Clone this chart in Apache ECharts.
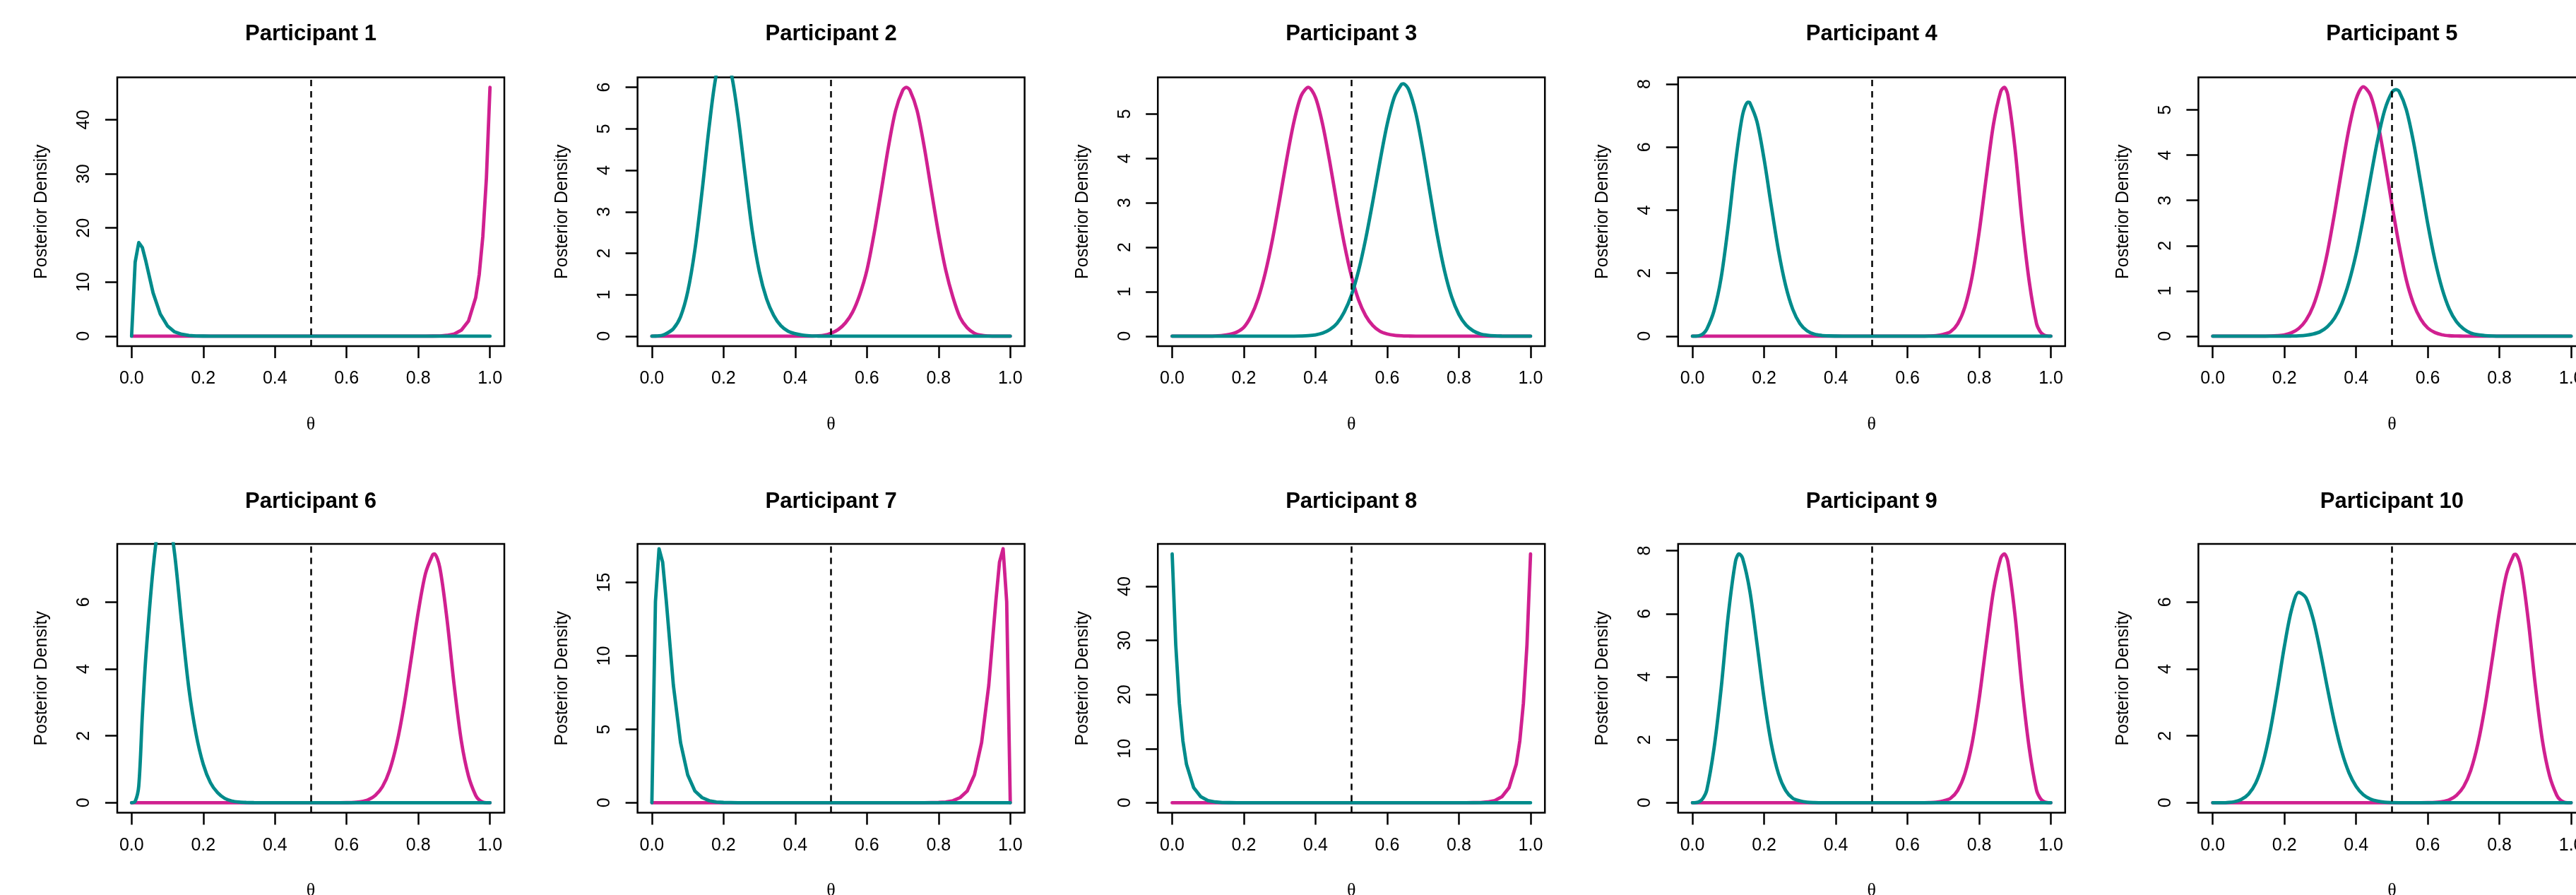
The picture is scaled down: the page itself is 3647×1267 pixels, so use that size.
<!DOCTYPE html>
<html>
<head>
    <meta charset="UTF-8"/>
    <script type="text/javascript" src="https://cdn.jsdelivr.net/npm/echarts@6/dist/echarts.min.js"></script>
    <title>Posterior Density</title>
    <style>
        body {margin: 0; background: #fff;}
        #main {width: 3647px; height: 1267px;}
    </style>
</head>
<body>
<div id="main"></div>
<script type="text/javascript">
    // theta grid the densities were read at
    var theta = [0, 0.01, 0.02, 0.03, 0.04,
        0.06, 0.08, 0.10, 0.12, 0.14, 0.16, 0.18, 0.20,
        0.22, 0.24, 0.26, 0.28, 0.30, 0.32, 0.34, 0.36, 0.38, 0.40,
        0.42, 0.44, 0.46, 0.48, 0.50, 0.52, 0.54, 0.56, 0.58, 0.60,
        0.62, 0.64, 0.66, 0.68, 0.70, 0.72, 0.74, 0.76, 0.78, 0.80,
        0.82, 0.84, 0.86, 0.88, 0.90, 0.92, 0.94, 0.96,
        0.97, 0.98, 0.99, 1]

    var pink1 = [0, 0, 0, 0, 0,
        0, 0, 0, 0, 0, 0, 0, 0,
        0, 0, 0, 0, 0, 0, 0, 0, 0, 0,
        0, 0, 0, 0, 0, 0, 0, 0, 0, 0,
        0, 0, 0, 0, 0, 0, 0, 0, 0, 0.002,
        0.006, 0.018, 0.05, 0.15, 0.4, 1.1, 2.8, 7.1,
        11.4, 18.4, 29.2, 46]
    var teal1 = [0, 13.7, 17.3, 16.4, 13.8,
        8.0, 4.1, 1.9, 0.8, 0.35, 0.14, 0.05, 0.02,
        0.01, 0, 0, 0, 0, 0, 0, 0, 0, 0,
        0, 0, 0, 0, 0, 0, 0, 0, 0, 0,
        0, 0, 0, 0, 0, 0, 0, 0, 0, 0,
        0, 0, 0, 0, 0, 0, 0, 0,
        0, 0, 0, 0]

    var pink2 = [0, 0, 0, 0, 0,
        0, 0, 0, 0, 0, 0, 0, 0,
        0, 0, 0, 0, 0, 0, 0, 0, 0, 0,
        0, 0, 0.006, 0.02, 0.07, 0.16, 0.32, 0.58, 1.0, 1.59,
        2.47, 3.5, 4.56, 5.44, 5.93, 5.93, 5.44, 4.56, 3.5, 2.47,
        1.59, 0.94, 0.45, 0.2, 0.07, 0.02, 0.005, 0,
        0, 0, 0, 0]
    var teal2 = [0, 0.003, 0.01, 0.025, 0.06,
        0.18, 0.47, 1.07, 2.08, 3.49, 5.06, 6.32, 6.8,
        6.39, 5.32, 3.91, 2.54, 1.55, 0.9, 0.5, 0.25, 0.12, 0.06,
        0.025, 0.01, 0.004, 0, 0, 0, 0, 0, 0, 0,
        0, 0, 0, 0, 0, 0, 0, 0, 0, 0,
        0, 0, 0, 0, 0, 0, 0, 0,
        0, 0, 0, 0]

    var pink3 = [0, 0, 0, 0, 0,
        0, 0, 0.001, 0.005, 0.015, 0.04, 0.09, 0.2,
        0.45, 0.85, 1.43, 2.18, 3.07, 4.0, 4.83, 5.41, 5.6, 5.37,
        4.76, 3.91, 2.97, 2.09, 1.36, 0.82, 0.46, 0.24, 0.11, 0.05,
        0.02, 0.008, 0.003, 0, 0, 0, 0, 0, 0, 0,
        0, 0, 0, 0, 0, 0, 0, 0,
        0, 0, 0, 0]
    var teal3 = [0, 0, 0, 0, 0,
        0, 0, 0, 0, 0, 0, 0, 0,
        0, 0, 0, 0, 0, 0.001, 0.002, 0.005, 0.012, 0.03,
        0.07, 0.15, 0.29, 0.54, 0.92, 1.47, 2.19, 3.04, 3.94, 4.77,
        5.38, 5.67, 5.55, 5.01, 4.17, 3.2, 2.26, 1.47, 0.88, 0.49,
        0.25, 0.12, 0.05, 0.02, 0.007, 0.002, 0, 0,
        0, 0, 0, 0]

    var pink4 = [0, 0, 0, 0, 0,
        0, 0, 0, 0, 0, 0, 0, 0,
        0, 0, 0, 0, 0, 0, 0, 0, 0, 0,
        0, 0, 0, 0, 0, 0, 0, 0, 0, 0,
        0, 0.002, 0.007, 0.02, 0.06, 0.14, 0.39, 0.92, 1.87, 3.30,
        5.06, 6.73, 7.76, 7.66, 5.96, 3.62, 1.71, 0.4,
        0.15, 0.04, 0.005, 0]
    var teal4 = [0, 0.002, 0.02, 0.08, 0.22,
        0.80, 1.85, 3.52, 5.49, 7.03, 7.41, 6.81, 5.61,
        4.13, 2.72, 1.61, 0.85, 0.40, 0.17, 0.065, 0.025, 0.009, 0.003,
        0, 0, 0, 0, 0, 0, 0, 0, 0, 0,
        0, 0, 0, 0, 0, 0, 0, 0, 0, 0,
        0, 0, 0, 0, 0, 0, 0, 0,
        0, 0, 0, 0]

    var pink5 = [0, 0, 0, 0, 0,
        0, 0, 0, 0, 0.001, 0.004, 0.012, 0.03,
        0.076, 0.17, 0.35, 0.66, 1.16, 1.85, 2.72, 3.68, 4.58, 5.24,
        5.51, 5.33, 4.74, 3.87, 2.91, 2.01, 1.25, 0.72, 0.38, 0.18,
        0.08, 0.03, 0.01, 0.004, 0.001, 0, 0, 0, 0, 0,
        0, 0, 0, 0, 0, 0, 0, 0,
        0, 0, 0, 0]
    var teal5 = [0, 0, 0, 0, 0,
        0, 0, 0, 0, 0, 0, 0, 0,
        0.003, 0.008, 0.02, 0.047, 0.10, 0.21, 0.40, 0.72, 1.19, 1.82,
        2.61, 3.48, 4.33, 5.0, 5.39, 5.41, 5.01, 4.30, 3.40, 2.48,
        1.68, 1.05, 0.60, 0.32, 0.16, 0.07, 0.03, 0.012, 0.004, 0,
        0, 0, 0, 0, 0, 0, 0, 0,
        0, 0, 0, 0]

    var pink6 = [0, 0, 0, 0, 0,
        0, 0, 0, 0, 0, 0, 0, 0,
        0, 0, 0, 0, 0, 0, 0, 0, 0, 0,
        0, 0, 0, 0, 0, 0, 0, 0, 0, 0.003,
        0.01, 0.031, 0.087, 0.22, 0.48, 0.97, 1.77, 2.90, 4.29, 5.71,
        6.85, 7.41, 7.03, 5.49, 3.52, 1.85, 0.80, 0.22,
        0.08, 0.02, 0.002, 0]
    var teal6 = [0, 0.04, 0.5, 2.6, 4.4,
        7.0, 8.7, 8.85, 7.45, 5.35, 3.4, 2.05, 1.15,
        0.6, 0.3, 0.13, 0.05, 0.02, 0.008, 0.003, 0, 0, 0,
        0, 0, 0, 0, 0, 0, 0, 0, 0, 0,
        0, 0, 0, 0, 0, 0, 0, 0, 0, 0,
        0, 0, 0, 0, 0, 0, 0, 0,
        0, 0, 0, 0]

    var pink7 = [0, 0, 0, 0, 0,
        0, 0, 0, 0, 0, 0, 0, 0,
        0, 0, 0, 0, 0, 0, 0, 0, 0, 0,
        0, 0, 0, 0, 0, 0, 0, 0, 0, 0,
        0, 0, 0, 0, 0, 0, 0, 0, 0.01, 0.02,
        0.05, 0.14, 0.35, 0.8, 1.9, 4.1, 8.0, 13.8,
        16.4, 17.3, 13.7, 0]
    var teal7 = [0, 13.7, 17.3, 16.4, 13.8,
        8.0, 4.1, 1.9, 0.8, 0.35, 0.14, 0.05, 0.02,
        0.01, 0, 0, 0, 0, 0, 0, 0, 0, 0,
        0, 0, 0, 0, 0, 0, 0, 0, 0, 0,
        0, 0, 0, 0, 0, 0, 0, 0, 0, 0,
        0, 0, 0, 0, 0, 0, 0, 0,
        0, 0, 0, 0]

    var pink8 = [0, 0, 0, 0, 0,
        0, 0, 0, 0, 0, 0, 0, 0,
        0, 0, 0, 0, 0, 0, 0, 0, 0, 0,
        0, 0, 0, 0, 0, 0, 0, 0, 0, 0,
        0, 0, 0, 0, 0, 0, 0, 0, 0, 0.002,
        0.006, 0.018, 0.05, 0.15, 0.4, 1.1, 2.8, 7.1,
        11.4, 18.4, 29.2, 46]
    var teal8 = [46, 29.2, 18.4, 11.4, 7.1,
        2.8, 1.1, 0.4, 0.15, 0.05, 0.018, 0.006, 0.002,
        0, 0, 0, 0, 0, 0, 0, 0, 0, 0,
        0, 0, 0, 0, 0, 0, 0, 0, 0, 0,
        0, 0, 0, 0, 0, 0, 0, 0, 0, 0,
        0, 0, 0, 0, 0, 0, 0, 0,
        0, 0, 0, 0]

    var pink9 = [0, 0, 0, 0, 0,
        0, 0, 0, 0, 0, 0, 0, 0,
        0, 0, 0, 0, 0, 0, 0, 0, 0, 0,
        0, 0, 0, 0, 0, 0, 0, 0, 0, 0,
        0, 0.002, 0.007, 0.02, 0.06, 0.14, 0.39, 0.92, 1.87, 3.30,
        5.06, 6.73, 7.76, 7.66, 5.96, 3.62, 1.71, 0.4,
        0.15, 0.04, 0.005, 0]
    var teal9 = [0, 0.005, 0.04, 0.15, 0.4,
        1.71, 3.62, 5.96, 7.66, 7.76, 6.73, 5.06, 3.30,
        1.87, 0.92, 0.39, 0.14, 0.06, 0.02, 0.007, 0.002, 0, 0,
        0, 0, 0, 0, 0, 0, 0, 0, 0, 0,
        0, 0, 0, 0, 0, 0, 0, 0, 0, 0,
        0, 0, 0, 0, 0, 0, 0, 0,
        0, 0, 0, 0]

    var pink10 = [0, 0, 0, 0, 0,
        0, 0, 0, 0, 0, 0, 0, 0,
        0, 0, 0, 0, 0, 0, 0, 0, 0, 0,
        0, 0, 0, 0, 0, 0, 0, 0, 0, 0.003,
        0.01, 0.031, 0.087, 0.22, 0.48, 0.97, 1.77, 2.90, 4.29, 5.71,
        6.85, 7.41, 7.03, 5.49, 3.52, 1.85, 0.80, 0.22,
        0.08, 0.02, 0.002, 0]
    var teal10 = [0, 0, 0.001, 0.002, 0.008,
        0.03, 0.10, 0.26, 0.59, 1.19, 2.13, 3.35, 4.68,
        5.77, 6.29, 6.13, 5.50, 4.53, 3.43, 2.39, 1.53, 0.90, 0.49,
        0.24, 0.11, 0.047, 0.018, 0.007, 0.002, 0, 0, 0, 0,
        0, 0, 0, 0, 0, 0, 0, 0, 0, 0,
        0, 0, 0, 0, 0, 0, 0, 0,
        0, 0, 0, 0]

    // modes that fall between grid points: [theta, density]
    var pinkPeaks = [null, [0.71, 6.0], null, [0.87, 7.9], null, [0.845, 7.44], null, null, [0.87, 7.9], [0.845, 7.43]]
    var tealPeaks = [null, null, [0.645, 5.68], [0.155, 7.43], [0.511, 5.45], [0.09, 9.0], null, null, [0.13, 7.9], null]

    var pinkSeries = [pink1, pink2, pink3, pink4, pink5, pink6, pink7, pink8, pink9, pink10]
    var tealSeries = [teal1, teal2, teal3, teal4, teal5, teal6, teal7, teal8, teal9, teal10]

    var titles = ['Participant 1', 'Participant 2', 'Participant 3', 'Participant 4', 'Participant 5',
        'Participant 6', 'Participant 7', 'Participant 8', 'Participant 9', 'Participant 10']
    // y range of each panel follows the pink curve's maximum
    var yMax = [46, 6.0, 5.6, 7.9, 5.5, 7.44, 16.95, 46, 7.9, 7.44]
    var yTicks = [
        [0, 10, 20, 30, 40],
        [0, 1, 2, 3, 4, 5, 6],
        [0, 1, 2, 3, 4, 5],
        [0, 2, 4, 6, 8],
        [0, 1, 2, 3, 4, 5],
        [0, 2, 4, 6],
        [0, 5, 10, 15],
        [0, 10, 20, 30, 40],
        [0, 2, 4, 6, 8],
        [0, 2, 4, 6]
    ]
    var xTicks = [0, 0.2, 0.4, 0.6, 0.8, 1.0]
    var cutoff = 0.5

    var PINK = '#D02090'
    var TEAL = '#008B8B'
    var SANS = '"Liberation Sans", Arial, Helvetica, sans-serif'
    var SERIF = '"Liberation Serif", "Times New Roman", serif'
    var spiky = [0, 6, 7]

    function pairs(ys, peak) {
        var out = []
        for (var k = 0; k < theta.length; k++) {
            if (peak && k > 0 && theta[k - 1] < peak[0] && theta[k] > peak[0]) {
                out.push([peak[0], peak[1]])
            }
            out.push([theta[k], ys[k]])
        }
        return out
    }

    function buildOption() {
        var option = {
            animation: false,
            backgroundColor: '#fff',
            grid: [],
            xAxis: [],
            yAxis: [],
            series: [],
            graphic: []
        }
        for (var i = 0; i < 10; i++) {
            var col = i % 5
            var row = Math.floor(i / 5)
            var boxLeft = 166 + 736.6 * col
            var boxTop = row === 0 ? 109.5 : 770
            var smooth = spiky.indexOf(i) >= 0 ? false : 0.3

            option.grid.push({
                left: boxLeft, top: boxTop, width: 548, height: 380.5,
                show: true, borderColor: '#000', borderWidth: 2.5,
                containLabel: false, outerBoundsMode: 'none'
            })

            option.xAxis.push({
                type: 'value', gridIndex: i, min: -0.04, max: 1.04,
                name: 'θ', nameLocation: 'middle', nameGap: 98,
                nameTextStyle: {fontFamily: SERIF, fontSize: 26, color: '#000'},
                axisLine: {show: false, onZero: false},
                splitLine: {show: false},
                axisTick: {show: true, inside: false, length: 17, customValues: xTicks.slice(),
                    lineStyle: {color: '#000', width: 2.5}},
                axisLabel: {show: true, customValues: xTicks.slice(), margin: 34,
                    fontFamily: SANS, fontSize: 25, color: '#000',
                    formatter: function (v) { return Number(v).toFixed(1) }}
            })

            option.yAxis.push({
                type: 'value', gridIndex: i, min: -0.04 * yMax[i], max: 1.04 * yMax[i],
                name: 'Posterior Density', nameLocation: 'middle', nameGap: 94, nameRotate: 90,
                nameTextStyle: {fontFamily: SANS, fontSize: 25, color: '#000'},
                axisLine: {show: false, onZero: false},
                splitLine: {show: false},
                axisTick: {show: true, inside: false, length: 17, customValues: yTicks[i].slice(),
                    lineStyle: {color: '#000', width: 2.5}},
                axisLabel: {show: true, customValues: yTicks[i].slice(), rotate: 90, margin: 34,
                    fontFamily: SANS, fontSize: 25, color: '#000',
                    formatter: function (v) { return String(Math.round(v)) }}
            })

            option.series.push({
                type: 'line', xAxisIndex: i, yAxisIndex: i,
                data: pairs(pinkSeries[i], pinkPeaks[i]), showSymbol: false, symbol: 'none', smooth: smooth,
                lineStyle: {color: PINK, width: 4.8, cap: 'round', join: 'round'},
                clip: true, silent: true
            })
            option.series.push({
                type: 'line', xAxisIndex: i, yAxisIndex: i,
                data: pairs(tealSeries[i], tealPeaks[i]), showSymbol: false, symbol: 'none', smooth: smooth,
                lineStyle: {color: TEAL, width: 4.8, cap: 'round', join: 'round'},
                clip: true, silent: true,
                markLine: {
                    silent: true, symbol: ['none', 'none'], label: {show: false},
                    lineStyle: {color: '#000', width: 2.5, type: [9, 7]},
                    data: [{xAxis: cutoff}]
                }
            })

            option.graphic.push({
                type: 'text', silent: true,
                x: boxLeft + 274, y: row === 0 ? 48 : 710,
                style: {
                    text: titles[i], fill: '#000',
                    font: 'bold 31px ' + SANS,
                    textAlign: 'center', textVerticalAlign: 'middle'
                }
            })
        }
        return option
    }

    var myChart = echarts.init(document.getElementById('main'))
    myChart.setOption(buildOption())
</script>
</body>
</html>
